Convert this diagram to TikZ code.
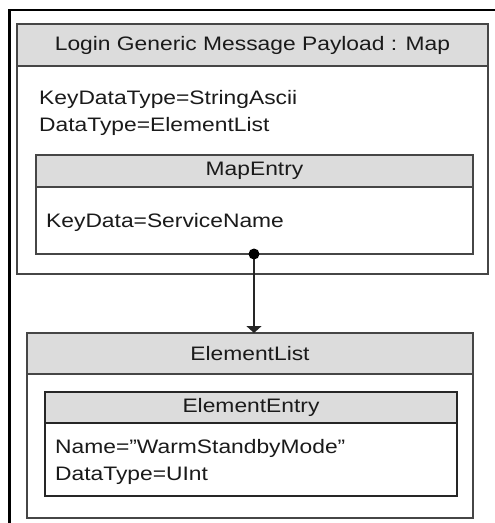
\documentclass[tikz,border=0pt]{standalone}
\usepackage{fontspec}
\setmainfont{Liberation Sans}[FakeStretch=1.17]
\usetikzlibrary{arrows.meta}
\definecolor{headgray}{HTML}{DCDCDC}
\definecolor{edgegray}{HTML}{464646}
\definecolor{txt}{HTML}{1A1A1A}
\begin{document}
\begin{tikzpicture}[x=1pt,y=-1pt,
  every node/.style={font=\fontsize{19.5}{27}\selectfont, text=txt},
  boxst/.style={draw=edgegray, line width=1.8pt, fill=white, rectangle, anchor=north west, inner sep=0pt, outer sep=0pt},
  headst/.style={draw=edgegray, line width=1.8pt, fill=headgray, rectangle, anchor=north west, inner sep=0pt, outer sep=0pt},
  lbl/.style={anchor=base west, inner sep=0pt}
]
\useasboundingbox (0,0) rectangle (495,523);
\fill[white] (0,0) rectangle (495,523);
% outer frame (cut at right and bottom)
\draw[line width=2.2pt, black] (9.5,523) -- (9.5,10) -- (495,10);

% Map box
\node[boxst, minimum width=471pt, minimum height=250pt] (map) at (17,24) {};
\node[headst, minimum width=471pt, minimum height=42pt] (maphead) at (map.north west) {Login Generic Message Payload : Map};
\node[lbl] (kdt) at (39,104) {KeyDataType=StringAscii};
\node[lbl] (dt1) at (39,131) {DataType=ElementList};

% MapEntry box
\node[boxst, minimum width=437pt, minimum height=99pt] (me) at (36,155) {};
\node[headst, minimum width=437pt, minimum height=32pt] (mehead) at (me.north west) {MapEntry};
\node[lbl] (kd) at (46,227) {KeyData=ServiceName};

% ElementList box
\node[boxst, minimum width=446pt, minimum height=185pt] (el) at (27,333) {};
\node[headst, minimum width=446pt, minimum height=41pt] (elhead) at (el.north west) {ElementList};

% ElementEntry box
\node[boxst, draw=black!85, minimum width=412pt, minimum height=104pt] (ee) at (45,392) {};
\node[headst, draw=black!85, minimum width=412pt, minimum height=31pt] (eehead) at (ee.north west) {ElementEntry};
\node[lbl] (nm) at (55,453) {Name=\char"22 WarmStandbyMode\char"22};
\node[lbl] (dt2) at (55,480) {DataType=UInt};

% connector
\coordinate (dotc) at (254,254);
\coordinate (eltop) at (254,333);
\draw[line width=1.4pt, black!85, -{Triangle[width=15pt,length=7pt]}] (dotc) -- (eltop);
\fill[black] (dotc) circle (5.5pt);
\end{tikzpicture}
\end{document}
